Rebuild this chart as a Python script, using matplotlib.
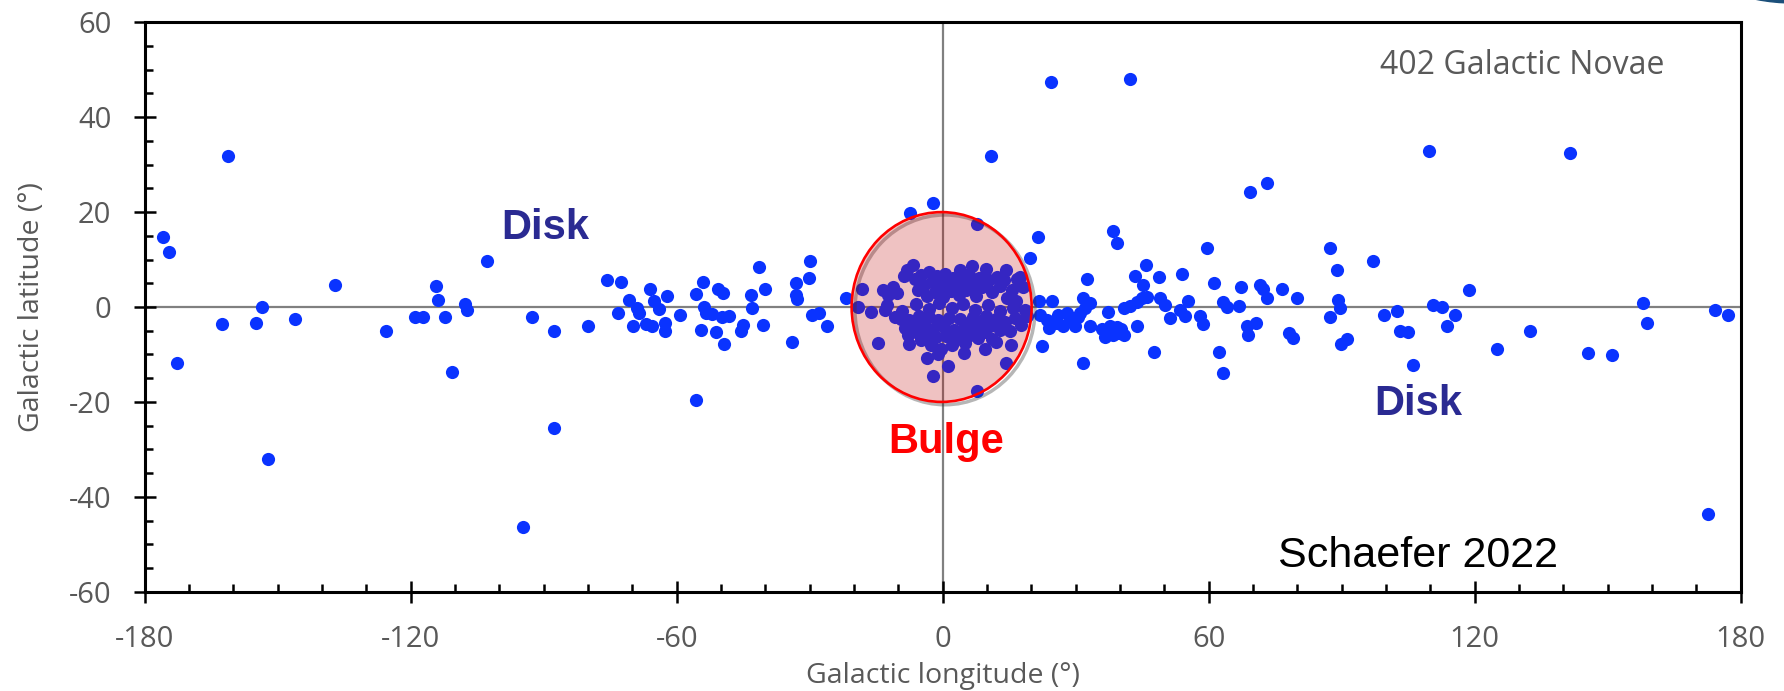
import numpy as np
import matplotlib
matplotlib.use('Agg')
import matplotlib.pyplot as plt
from matplotlib.patches import Ellipse
from matplotlib.ticker import MultipleLocator

plt.rcParams['font.family'] = ['Open Sans', 'DejaVu Sans']
plt.rcParams['axes.unicode_minus'] = False

# galactic longitude / latitude of the novae (deg)
# stragglers well off the plane
halo = np.array([
    (-175.9, 14.7), (-174.6, 11.6), (-172.8, -11.7), (-161.3, 31.8), (-152.1, -32.0),
    (-110.7, -13.8), (-102.7, 9.7), (-94.6, -46.4), (-87.6, -25.4), (-55.7, -19.5),
    (-7.3, 19.8), (-2.2, 21.9), (10.9, 31.8), (24.4, 47.4), (42.3, 48.0),
    (21.4, 14.7), (19.7, 10.4), (38.3, 16.0), (39.2, 13.4), (69.3, 24.2),
    (73.2, 26.1), (109.7, 32.9), (141.4, 32.5), (172.5, -43.7),
])

# disk, west of the bulge
disk_west = np.array([
    (-162.6, -3.6), (-154.9, -3.4), (-153.5, 0.0), (-146.1, -2.6), (-137.0, 4.6),
    (-125.6, -5.0), (-119.0, -2.2), (-117.3, -2.0), (-114.2, 4.4), (-113.8, 1.5),
    (-112.2, -2.0), (-107.7, 0.6), (-107.2, -0.6), (-92.7, -2.2), (-87.7, -5.0),
    (-80.1, -3.9), (-75.8, 5.7), (-72.5, 5.3), (-73.3, -1.2), (-70.7, 1.5),
    (-69.0, -0.3), (-68.6, -1.3), (-69.8, -4.1), (-66.0, 3.7), (-65.2, 1.3),
    (-66.9, -3.6), (-65.6, -4.1), (-63.9, -0.5), (-62.1, 2.3), (-62.6, -3.3),
    (-62.6, -5.1), (-59.2, -1.7), (-55.7, 2.7), (-54.0, 5.2), (-53.8, 0.1),
    (-53.3, -1.2), (-54.6, -4.8), (-52.1, -1.5), (-50.6, 3.9), (-49.5, 2.9),
    (-49.9, -2.0), (-48.3, -1.8), (-51.1, -5.3), (-49.3, -7.8), (-43.3, 2.5),
    (-43.0, -0.3), (-41.4, 8.5), (-40.0, 3.7), (-40.6, -3.8), (-45.0, -3.8),
    (-45.6, -5.0), (-34.0, -7.4), (-33.1, 5.0), (-33.1, 2.5), (-32.8, 1.6),
    (-29.9, 9.7), (-30.1, 6.2), (-29.6, -1.7), (-28.0, -1.2), (-26.2, -3.9),
    (-21.8, 2.0),
])

# bulge, inside |l|,|b| < 20
bulge = np.array([
    (-18.3, 3.9), (-19.2, 0.1), (-16.1, -1.0), (-14.7, -7.5), (-13.4, 3.6),
    (-12.3, 2.5), (-11.2, 4.3), (-10.4, 2.9), (-12.6, 0.4), (-13.1, -0.6),
    (-10.8, -2.0), (-8.7, 6.5), (-8.1, 7.7), (-7.7, -2.7), (-7.7, -7.7),
    (-6.8, 8.9), (-6.2, 5.8), (-5.5, 3.6), (-4.8, 6.8), (-4.2, 4.6),
    (-3.6, 2.4), (-3.0, 7.4), (-2.4, 5.2), (-1.8, 3.2), (-1.2, 6.6),
    (-0.6, 4.4), (0.0, 2.2), (0.6, 7.0), (1.2, 5.4), (1.8, 3.4),
    (2.4, 6.2), (3.0, 4.6), (3.6, 2.6), (3.9, 7.8), (4.6, 5.6),
    (5.2, 3.6), (5.9, 6.8), (6.5, 8.6), (6.8, 4.6), (7.5, 2.4),
    (8.2, 6.2), (8.9, 4.2), (9.8, 8.1), (10.5, 5.6), (11.2, 3.2),
    (12.2, 6.4), (13.0, 4.4), (13.8, 5.7), (14.3, 7.7), (14.4, 1.8),
    (15.6, 3.6), (16.8, 5.8), (17.4, 6.4), (18.2, 4.3), (16.6, 1.2),
    (7.7, 17.5),
    (-9.2, -0.8), (-6.0, 0.6), (-3.2, -0.4), (-0.8, 0.8), (2.0, -0.2),
    (4.6, 0.6), (7.2, -0.6), (10.2, 0.4), (13.0, -0.8), (15.8, -0.2),
    (18.6, -0.6),
    (-9.4, -2.6), (-8.6, -4.4), (-7.8, -6.0), (-6.8, -3.4), (-6.0, -5.2),
    (-5.4, -1.8), (-5.0, -7.0), (-4.4, -3.8), (-3.8, -5.6), (-3.2, -2.2),
    (-2.6, -8.0), (-2.2, -4.6), (-1.6, -6.4), (-1.0, -2.8), (-0.4, -8.8),
    (0.2, -4.2), (0.8, -6.2), (1.4, -2.4), (2.0, -8.0), (2.6, -4.8),
    (3.2, -6.8), (3.8, -2.6), (4.4, -5.0), (5.0, -7.6), (5.6, -3.4),
    (6.2, -5.8), (6.8, -2.2), (7.4, -4.4), (8.0, -6.6), (8.6, -3.0),
    (9.2, -5.2), (9.8, -1.8), (10.6, -4.0), (11.2, -6.8), (12.0, -2.6),
    (12.8, -4.8), (14.0, -3.2), (15.2, -5.0), (16.4, -2.4), (17.6, -3.8),
    (19.0, -1.8),
    (-3.5, -10.8), (-2.1, -14.5), (1.2, -12.4), (4.7, -9.7), (14.2, -11.8),
    (15.4, -8.0), (7.7, -17.8), (-1.0, -9.8), (9.6, -8.8), (12.0, -7.4),
])

# disk, east of the bulge
disk_east = np.array([
    (21.6, 1.3), (24.6, 1.3), (21.9, -1.7), (23.4, -2.7), (24.0, -4.5),
    (25.7, -3.4), (26.1, -1.7), (27.2, -4.1), (28.0, -1.3), (28.7, -2.7),
    (29.8, -4.1), (30.5, -2.0), (22.3, -8.2), (31.6, -11.7), (32.6, 5.8),
    (31.7, 1.8), (33.1, 0.8), (32.1, -0.3), (31.0, -1.3), (33.2, -3.9),
    (37.2, -1.0), (36.0, -4.6), (36.6, -6.3), (37.2, -5.2), (37.7, -4.1),
    (38.5, -5.8), (39.2, -4.2), (39.8, -5.5), (40.3, -4.6), (40.8, -5.9),
    (40.8, -0.3), (42.3, 0.2), (43.8, 1.1), (44.9, 1.8), (46.0, 2.2),
    (49.0, 2.0), (50.1, 0.4), (43.4, 6.6), (45.8, 8.9), (45.2, 4.6),
    (48.8, 6.4), (53.9, 7.0), (43.8, -4.1), (47.6, -9.4), (51.3, -2.4),
    (53.5, -0.6), (54.6, -1.9), (55.4, 1.3), (58.0, -1.9), (58.6, -3.6),
    (59.5, 12.4), (61.1, 5.1), (62.2, -9.4), (63.3, -14.0), (63.3, 1.1),
    (64.0, 0.1), (66.9, 0.2), (67.2, 4.3), (68.6, -4.1), (68.9, -5.9),
    (70.7, -3.3), (71.6, 4.6), (72.2, 3.9), (73.1, 2.0), (76.5, 3.7),
    (78.2, -5.4), (79.1, -6.6), (80.0, 1.8), (87.4, 12.4), (89.0, 7.9),
    (89.2, 1.5), (89.6, -0.3), (87.4, -2.2), (89.9, -7.7), (91.1, -6.8),
    (97.1, 9.8), (99.5, -1.7), (102.4, -0.8), (103.1, -5.0), (105.0, -5.2),
    (106.0, -12.2), (110.5, 0.4), (112.5, 0.1), (115.5, -1.7), (113.7, -4.1),
    (118.8, 3.6), (125.0, -8.9), (132.5, -5.0), (145.6, -9.6), (150.9, -10.1),
    (157.9, 0.9), (158.8, -3.3), (174.2, -0.6), (177.2, -1.7),
])

xticks = [-180, -120, -60, 0, 60, 120, 180]
yticks = [-60, -40, -20, 0, 20, 40, 60]

gray = '#595959'
arial = ['Liberation Sans', 'DejaVu Sans']

fig = plt.figure(figsize=(17.84, 6.91), dpi=100)
ax = fig.add_axes([0.0811, 0.1437, 0.8947, 0.8240])
ax.set_xlim(-180, 180)
ax.set_ylim(-60, 60)

ax.axhline(0, color='#808080', lw=1.6, zorder=1)
ax.axvline(0, color='#808080', lw=1.6, zorder=1)

pts = np.vstack([halo, disk_west, bulge, disk_east])
ax.scatter(pts[:, 0], pts[:, 1], s=90, color='#0a33ff', linewidths=0, zorder=2)

# bulge region: translucent disc over the points, with a faint drop shadow
ax.add_patch(Ellipse((0.5, -0.6), 40.6, 40, fill=False, edgecolor='#303030',
                     lw=2.5, alpha=0.35, zorder=2.9))
ax.add_patch(Ellipse((-0.25, 0), 40.6, 40, facecolor=(0.75, 0, 0, 0.24),
                     edgecolor='#ff0000', lw=1.9, zorder=3))

ax.text(-99.6, 14.3, 'Disk', fontsize=30, fontweight='bold', color='#2a2a92',
        family=arial, ha='left', va='baseline', zorder=4)
ax.text(97.3, -22.8, 'Disk', fontsize=30, fontweight='bold', color='#2a2a92',
        family=arial, ha='left', va='baseline', zorder=4)
ax.text(0.8, -30.8, 'Bulge', fontsize=30, fontweight='bold', color='#ff0000',
        family=arial, ha='center', va='baseline', zorder=4)
ax.text(75.6, -54.7, 'Schaefer 2022', fontsize=31, color='black',
        family=arial, ha='left', va='baseline', zorder=4)
ax.text(130.8, 49.1, '402 Galactic Novae', fontsize=23, color=gray,
        ha='center', va='baseline', zorder=4)

ax.set_xticks(xticks)
ax.set_yticks(yticks)
ax.xaxis.set_minor_locator(MultipleLocator(10))
ax.yaxis.set_minor_locator(MultipleLocator(5))
ax.tick_params(which='major', direction='inout', length=16, width=1.8,
               labelsize=21, labelcolor=gray, pad=16)
ax.tick_params(which='minor', direction='in', length=6, width=1.8)
ax.tick_params(which='both', top=False, right=False)
for s in ax.spines.values():
    s.set_linewidth(2.2)
    s.set_zorder(5)

ax.set_xlabel('Galactic longitude (°)', fontsize=20.5, color=gray)
ax.xaxis.label.set_va('baseline')
ax.xaxis.set_label_coords(0.5, -0.161)
ax.set_ylabel('Galactic latitude (°)', fontsize=20.5, color=gray)
ax.yaxis.set_label_coords(-0.062, 0.5)

# edge of the logo disc peeking in at the top right
fig.add_artist(Ellipse((17.93, 6.91 + 1.90 - 0.03), 3.8, 3.8,
                       transform=fig.dpi_scale_trans, color='#1b4f7a', zorder=0))

fig.savefig('out.png', dpi=100)
